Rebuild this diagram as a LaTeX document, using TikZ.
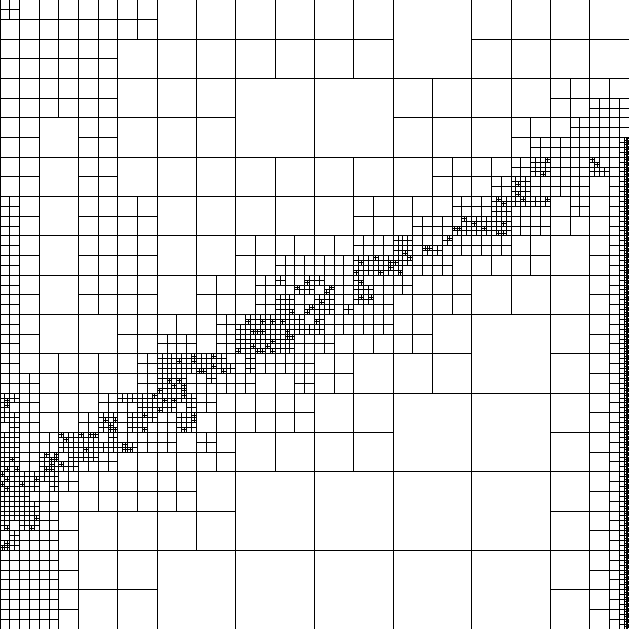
\documentclass[tikz,border=0pt]{standalone}
\newcount\cc \newcount\rr \newcount\tmp
\def\psplit{70}\def\pplus{15}\def\pplusE{22}
\def\scan#1{\ifx#1.\let\qtnext\relax\else\def\qtnext{\docell#1\advance\cc by 1 \scan}\fi\qtnext}
\def\mrow#1{\cc=0 \scan#1.\advance\rr by 1 }
\def\docell#1{\if#1E\edgecell\else\ifnum#1<6 \coarsecell#1\else\ifnum#1=6 \sixcell\else\ifnum#1=7 \sevencell\else\eightcell\fi\fi\fi\fi}
\def\coarsecell#1{\ifcase#1 \or\or\def\sz{8}\or\def\sz{4}\or\def\sz{2}\or\def\sz{1}\fi
 \tmp=\cc \divide\tmp by \sz\relax \multiply\tmp by \sz\relax
 \ifnum\tmp=\cc \tmp=\rr \divide\tmp by \sz\relax \multiply\tmp by \sz\relax
 \ifnum\tmp=\rr \draw (\the\cc,\the\rr) rectangle ++(\sz,\sz);\fi\fi}
\def\sixcell{\draw (\the\cc,\the\rr) rectangle ++(1,1) (\the\cc+0.5,\the\rr) -- ++(0,1) (\the\cc,\the\rr+0.5) -- ++(1,0);}
\def\qplus#1#2#3{\pgfmathrandominteger{\rw}{1}{100}\ifnum\rw<#3\relax\draw (\the\cc+#1+0.125,\the\rr+#2) -- ++(0,0.25) (\the\cc+#1,\the\rr+#2+0.125) -- ++(0.25,0);\fi}
\def\qsub#1#2{\pgfmathrandominteger{\rv}{1}{100}\ifnum\rv<\psplit\relax\draw (\the\cc+#1+0.25,\the\rr+#2) -- ++(0,0.5) (\the\cc+#1,\the\rr+#2+0.25) -- ++(0.5,0);\qplus{#1}{#2}{\pplus}\qplus{#1+0.25}{#2}{\pplus}\qplus{#1}{#2+0.25}{\pplus}\qplus{#1+0.25}{#2+0.25}{\pplus}\fi}
\def\sevencell{\sixcell\qsub{0}{0}\qsub{0.5}{0}\qsub{0}{0.5}\qsub{0.5}{0.5}}
\def\eightcell{\draw (\the\cc,\the\rr) rectangle ++(1,1);
 \foreach \k in {0.25,0.5,0.75}{\draw (\the\cc+\k,\the\rr) -- ++(0,1) (\the\cc,\the\rr+\k) -- ++(1,0);}
 \foreach \a in {0,0.25,0.5,0.75}{\foreach \b in {0,0.25,0.5,0.75}{\qplus{\a}{\b}{\pplusE}}}}
\def\edgecell{\draw (\the\cc,\the\rr) rectangle ++(1,1) (\the\cc+0.5,\the\rr) -- ++(0,1) (\the\cc,\the\rr+0.5) -- ++(0.5,0)
  (\the\cc+0.75,\the\rr) -- ++(0,1) (\the\cc+0.875,\the\rr) -- ++(0,1) (\the\cc+0.9375,\the\rr) -- ++(0,1);
 \foreach \k in {1,2,3}{\draw (\the\cc+0.5,\the\rr+\k*0.25) -- ++(0.25,0);}
 \foreach \k in {1,...,7}{\draw (\the\cc+0.75,\the\rr+\k*0.125) -- ++(0.125,0);}
 \foreach \k in {1,...,15}{\draw (\the\cc+0.875,\the\rr+\k*0.0625) -- ++(0.125,0);}}
\begin{document}
\begin{tikzpicture}[x=0.5cm,y=-0.5cm,line width=0.72pt]
\useasboundingbox (0,0) rectangle (32,32);
\pgfmathsetseed{7}
\rr=0
\mrow{65555555 444444444444 3333 44444444}
\mrow{55555555 444444444444 3333 44444444}
\mrow{555555 44444444444444 3333 44444444}
\mrow{555555 44444444444444 3333 44444444}
\mrow{555555 444444 33333333 44444444 5555}
\mrow{555555 444444 33333333 44444444 5566}
\mrow{55 44 55 444444 33333333 444444 555 666}
\mrow{55 44 55 444444 33333333 444444 5 6666 E}
\mrow{55 44 55 4444444444444444 5555 67667E}
\mrow{55 44 55 4444444444444444 5556 76665E}
\mrow{6 5 44 5555 4444444444 55555 66777 565E}
\mrow{6 5 44 5555 4444444444 555 667 7766 555E}
\mrow{6 5 44 5555 4444 5555 55 66777 666 55 44 5E}
\mrow{6 5 44 5555 4444 55 66 66 887 66 55555 44 5E}
\mrow{6 5 44 5555 44 555 6 77 7 6 7 6 6 555 444444 5E}
\mrow{6 5 44 5555 44 555 6 77 877 6 5555 444444 5E}
\mrow{6 5 4444 55555 6 7887 7 666 55 44 3333 44 5E}
\mrow{6 5 4444 55 66 5 6887 6 6 55555 44 3333 44 5E}
\mrow{6 555555 6 88777 666 55 444444 3333 44 5E}
\mrow{66 55555 6 77 76 6 5 5 6 55 444444 3333 44 5E}
\mrow{7 6 555 6 7887 6 55555 4444 33333333 44 5E}
\mrow{7 6 55 6 877 6 7 555555 4444 33333333 44 5E}
\mrow{7 66 8877 66 5 6 5 4444 4444 33333333 44 5E}
\mrow{7 6 877 6 555555 4444 4444 33333333 44 5E}
\mrow{8 87 6 555555 44 3333 333333333333 44 5E}
\mrow{8 7 6 5555555 44 3333 333333333333 44 5E}
\mrow{77 6 5 44444444 3333 333333333333 44 5E}
\mrow{7 66 5 44444444 3333 333333333333 44 5E}
\mrow{666 5 4444 33333333 333333333333 44 5E}
\mrow{666 5 4444 33333333 333333333333 44 5E}
\mrow{666 5 4444 33333333 333333333333 44 5E}
\mrow{666 5 4444 33333333 333333333333 44 5E}
\end{tikzpicture}
\end{document}
